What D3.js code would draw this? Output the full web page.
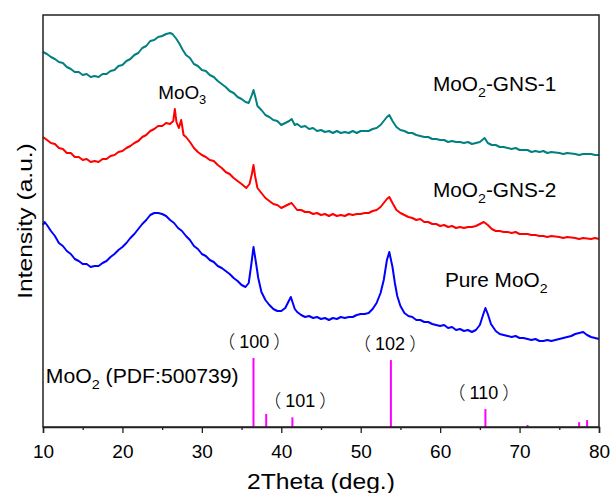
<!DOCTYPE html>
<html>
<head>
<meta charset="utf-8">
<script src="https://cdn.jsdelivr.net/npm/d3@7"></script>
<style>
  body { margin: 0; background: #fff; }
  text { font-family: "Liberation Sans", Arial, sans-serif; fill: #000; }
</style>
</head>
<body>
<script>
// XRD patterns, [2theta, intensity (a.u.)]
var gns1 = [[10,375],[10.5,373],[11,370],[11.5,368],[12,365],[12.5,364],[13,360],[13.5,358],[14,355],[14.5,355],[15,352],[15.5,353],[16,350],[16.5,351],[17,350],[17.5,353],[18,353],[18.5,356],[19,357],[19.5,361],[20,362],[20.5,366],[21,368],[21.5,372],[22,374],[22.5,379],[23,381],[23.5,386],[24,387],[24.5,390],[25,391],[25.5,393],[26,394],[26.3,393],[26.8,388],[27.2,383],[27.6,377],[28,372],[28.5,369],[29,363],[29.5,361],[30,357],[30.5,356],[31,352],[31.5,350],[32,346],[32.5,343],[33,340],[33.5,336],[34,334],[34.5,330],[35,328],[35.5,325],[35.9,324],[36.3,332],[36.5,337],[36.7,331],[37,321],[37.5,317],[38,312],[38.5,310],[39,307],[39.5,306],[40,302],[40.5,304],[41,306],[41.3,308],[41.7,302],[42,303],[42.5,300],[43,301],[43.5,298],[44,299],[44.5,296],[45,297],[45.5,295],[46,296],[46.5,294],[47,296],[47.5,294],[48,295],[48.5,294],[49,296],[49.5,294],[50,296],[50.5,296],[51,296],[51.5,298],[52,299],[52.5,302],[53,307],[53.3,310],[53.6,312],[54,306],[54.5,300],[55,297],[55.5,296],[56,294],[56.5,294],[57,292],[57.5,291],[58,290],[58.5,290],[59,288],[59.5,288],[60,287],[60.5,287],[61,285],[61.5,286],[62,285],[62.5,285],[63,284],[63.5,285],[64,283],[64.5,284],[65,285],[65.6,289],[66,284],[66.5,282],[67,282],[67.5,280],[68,280],[68.5,279],[69,278],[69.5,279],[70,277],[71,277],[71.5,275],[72,276],[72.5,275],[73,276],[73.5,274],[74,275],[75,274],[75.5,273],[76,274],[77,273],[77.5,272],[78,273],[79,273],[79.5,272],[80,272]];

var gns2 = [[10,290],[10.5,287],[11,284],[11.5,283],[12,279],[12.5,278],[13,274],[13.5,274],[14,270],[14.5,270],[15,267],[15.5,268],[16,265],[16.5,266],[17,265],[17.5,268],[18,268],[18.5,271],[19,272],[19.5,275],[20,276],[20.5,279],[21,281],[21.5,284],[22,286],[22.5,290],[23,292],[23.5,296],[24,298],[24.5,301],[25,301],[25.5,304],[26,303],[26.4,306],[26.6,318],[26.8,305],[27.1,299],[27.4,307],[27.7,292],[28,290],[28.5,285],[29,279],[29.5,275],[30,272],[30.5,270],[31,267],[31.5,266],[32,262],[32.5,259],[33,255],[33.5,253],[34,249],[34.5,246],[35,243],[35.6,239],[36,243],[36.3,253],[36.5,262],[36.7,251],[37,239],[37.5,234],[38,229],[38.5,226],[39,223],[39.5,222],[40,219],[40.5,221],[41,223],[41.3,224],[41.7,220],[42,217],[42.5,217],[43,215],[43.5,215],[44,213],[44.5,214],[45,212],[45.5,213],[46,211],[46.5,213],[47,211],[47.5,212],[48,211],[48.5,213],[49,212],[49.5,213],[50,213],[50.5,214],[51,214],[51.5,216],[52,217],[52.5,220],[53,225],[53.3,228],[53.6,230],[54,224],[54.5,217],[55,214],[55.5,212],[56,210],[56.5,209],[57,207],[57.5,208],[58,205],[58.5,205],[59,203],[59.5,203],[60,201],[60.5,202],[61,200],[61.5,201],[62,199],[62.5,200],[63,199],[63.5,200],[64,200],[64.5,201],[65,203],[65.5,205],[66,202],[66.5,198],[67,196],[67.5,196],[68,195],[68.5,195],[69,194],[69.5,195],[70,193],[71,193],[71.5,192],[72,192],[72.5,191],[73,191],[73.5,190],[74,191],[75,190],[75.5,189],[76,190],[77,189],[77.5,188],[78,189],[79,188],[79.5,189],[80,188]];

var pure = [[10,202],[10.2,205],[10.5,202],[11,196],[11.5,191],[12,184],[12.5,181],[13,176],[13.5,173],[14,168],[14.5,166],[15,163],[15.5,163],[16,160],[16.5,161],[17,161],[17.5,164],[18,166],[18.5,170],[19,173],[19.5,177],[20,180],[20.5,184],[21,189],[21.5,193],[22,198],[22.5,203],[23,207],[23.5,212],[24,214],[24.5,214],[25,213],[25.5,211],[26,207],[26.5,204],[27,199],[27.5,196],[28,191],[28.5,187],[29,181],[29.5,178],[30,173],[30.5,171],[31,167],[31.5,165],[32,161],[32.5,159],[33,156],[33.5,153],[34,149],[34.5,146],[35,142],[35.5,140],[35.9,144],[36.2,161],[36.5,180],[36.8,165],[37.1,149],[37.5,135],[38,127],[38.5,122],[39,118],[39.5,116],[40,116],[40.5,119],[41.2,130],[41.7,118],[42,115],[42.5,112],[43,110],[43.5,111],[44,109],[44.5,110],[45,108],[45.5,109],[46,107],[46.5,109],[47,108],[47.5,110],[48,109],[48.5,110],[49,110],[49.5,112],[50,113],[50.5,113],[51,114],[51.5,118],[52,124],[52.5,134],[52.9,147],[53.3,167],[53.6,175],[54,160],[54.3,144],[54.6,131],[55,121],[55.5,114],[56,111],[56.5,110],[57,107],[57.5,107],[58,105],[58.5,105],[59,103],[59.5,102],[60,101],[60.5,102],[61,99],[61.5,100],[62,97],[62.5,98],[63,96],[63.5,97],[64,95],[64.5,97],[65,102],[65.4,112],[65.7,119],[66,113],[66.4,103],[67,96],[67.5,93],[68,92],[68.5,91],[69,90],[69.5,91],[70,89],[70.5,89],[71,88],[71.5,87],[72,88],[72.5,86],[73,86],[73.5,87],[74,86],[74.5,87],[75,88],[75.5,89],[76,90],[76.5,91],[77,93],[77.5,94],[78,95],[78.5,92],[79,90],[79.5,89],[80,88]];

// MoO2 reference PDF 500739
var refAngles = [36.5, 38.1, 41.4, 53.8, 65.7, 71.0, 77.5, 78.5];
var refIntensity = [100, 19, 14, 97, 26, 3, 7, 10];
var hklLabels = ['100', '101', '102', '110'];
var hklAngles = [36.6, 42.4, 53.7, 65.5];
var hklRef = [0, 2, 3, 4];

var xTicks = [10, 20, 30, 40, 50, 60, 70, 80];
var xMinorTicks = [15, 25, 35, 45, 55, 65, 75];

var width = 611;
var height = 493;
var plotLeft = 43, plotRight = 599, plotTop = 15, plotBottom = 427;

var svg = d3.select('body').append('svg')
  .attr('width', width)
  .attr('height', height);

var x = d3.scaleLinear().domain([10, 80]).range([plotLeft, plotRight]);
var y = d3.scaleLinear().domain([0, 412]).range([plotBottom, plotTop]);
var refY = d3.scaleLinear().domain([0, 100]).range([plotBottom, plotBottom - 69]);

var line = d3.line()
  .x(function(d) { return x(d[0]); })
  .y(function(d) { return y(d[1]); });

var series = [
  { data: gns1, color: '#008080' },
  { data: gns2, color: '#ff0000' },
  { data: pure, color: '#0000ff' }
];

series.forEach(function(s) {
  svg.append('path')
    .datum(s.data)
    .attr('d', line)
    .attr('fill', 'none')
    .attr('stroke', s.color)
    .attr('stroke-width', 2)
    .attr('stroke-linejoin', 'round');
});

// reference sticks
svg.selectAll('.stick')
  .data(refAngles)
  .enter().append('line')
  .attr('x1', function(d) { return x(d); })
  .attr('x2', function(d) { return x(d); })
  .attr('y1', plotBottom)
  .attr('y2', function(d, i) { return refY(refIntensity[i]); })
  .attr('stroke', '#ff00ff')
  .attr('stroke-width', 2);

var hkl = svg.selectAll('.hkl')
  .data(hklLabels)
  .enter().append('text')
  .attr('x', function(d, i) { return x(hklAngles[i]); })
  .attr('y', function(d, i) { return refY(refIntensity[hklRef[i]]) - 10; })
  .attr('text-anchor', 'middle')
  .style('font-size', '18px');
hkl.append('tspan').style('font-family', '"Noto Sans CJK SC"').style('font-weight', 300).text('（');
hkl.append('tspan').attr('dx', 4).text(function(d) { return d; });
hkl.append('tspan').attr('dx', 4).style('font-family', '"Noto Sans CJK SC"').style('font-weight', 300).text('）');

// frame
svg.append('rect')
  .attr('x', plotLeft).attr('y', plotTop)
  .attr('width', plotRight - plotLeft).attr('height', plotBottom - plotTop)
  .attr('fill', 'none')
  .attr('stroke', '#222')
  .attr('stroke-width', 1.5);

var xAxis = svg.append('g')
  .attr('transform', 'translate(0,' + plotBottom + ')')
  .call(d3.axisBottom(x).tickValues(xTicks).tickSize(6).tickFormat(d3.format('d')));
xAxis.select('.domain').attr('stroke', '#222').attr('stroke-width', 1.5);
xAxis.selectAll('.tick line').attr('stroke', '#222').attr('stroke-width', 1.3);
xAxis.selectAll('.tick text')
  .attr('y', 31).attr('dy', 0)
  .style('font-size', '19px')
  .style('font-family', '"Liberation Sans", Arial, sans-serif');

svg.append('g')
  .attr('transform', 'translate(0,' + plotBottom + ')')
  .call(d3.axisBottom(x).tickValues(xMinorTicks).tickSize(3).tickFormat(''))
  .call(function(g) {
    g.select('.domain').remove();
    g.selectAll('.tick line').attr('stroke', '#222').attr('stroke-width', 1.3);
  });

// stretched text helper
function label(px, py, size, sx, anchor) {
  return svg.append('text')
    .attr('transform', 'translate(' + px + ',' + py + ') scale(' + sx + ',1)')
    .attr('text-anchor', anchor || 'start')
    .style('font-size', size + 'px');
}

label((plotLeft + plotRight) / 2, 489, 22, 1.12, 'middle').text('2Theta (deg.)');

svg.append('text')
  .attr('transform', 'translate(32,' + ((plotTop + plotBottom) / 2) + ') rotate(-90) scale(1.17,1)')
  .attr('text-anchor', 'middle')
  .style('font-size', '21px')
  .text('Intensity (a.u.)');

function chem(px, py, size, sx, main, sub, rest) {
  var t = label(px, py, size, sx);
  t.append('tspan').text(main);
  t.append('tspan').attr('dy', size * 0.28).style('font-size', (size * 0.68) + 'px').text(sub);
  if (rest) t.append('tspan').attr('dy', -size * 0.28).text(rest);
  return t;
}

chem(x(59.1), y(336), 20, 1.04, 'MoO', '2', '-GNS-1');
chem(x(59.1), y(230), 20, 1.04, 'MoO', '2', '-GNS-2');
chem(x(60.6), y(140), 20, 1.04, 'Pure MoO', '2', null);
chem(x(24.5), y(328), 18, 1.05, 'MoO', '3', null);
chem(x(10.35), y(44), 20, 1.06, 'MoO', '2', ' (PDF:500739)');
</script>
</body>
</html>
